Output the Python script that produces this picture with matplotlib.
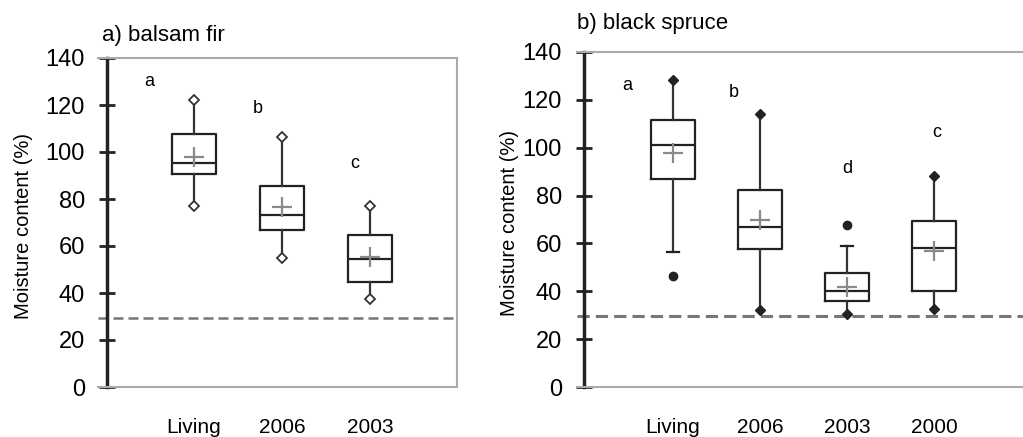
import matplotlib
matplotlib.use("Agg")
import matplotlib.pyplot as plt

plt.rcParams['font.family'] = ['Liberation Sans', 'DejaVu Sans']

# a) balsam fir
fir_groups = ['Living', '2006', '2003']
fir_whislo = [77, 55, 37.5]
fir_q1 = [90.5, 67, 44.5]
fir_med = [95.5, 73, 54.5]
fir_q3 = [107.5, 85.5, 64.5]
fir_whishi = [122, 106.5, 77]
fir_mean = [98, 76.5, 55.5]
fir_fliers = [[], [], []]
fir_letters = ['a', 'b', 'c']
fir_letter_x = [0.49, 1.72, 2.83]
fir_letter_y = [130, 118.5, 95]
fir_fsp = 29.5

# b) black spruce
spr_groups = ['Living', '2006', '2003', '2000']
spr_whislo = [56.5, 32, 30.5, 32.5]
spr_q1 = [87, 57.5, 36, 40]
spr_med = [101, 67, 40, 58]
spr_q3 = [111.5, 82.5, 47.5, 69.5]
spr_whishi = [128.5, 114, 59, 88]
spr_mean = [98, 70, 42, 57]
spr_fliers = [[46.5], [], [67.5], []]
spr_letters = ['a', 'b', 'd', 'c']
spr_letter_x = [0.47, 1.70, 3.0, 4.03]
spr_letter_y = [126, 123, 91.5, 106.5]
spr_fsp = 29.5


def make_stats(lo, q1, med, q3, hi, mean, fliers):
    return [dict(whislo=lo[i], q1=q1[i], med=med[i], q3=q3[i], whishi=hi[i],
                 mean=mean[i], fliers=fliers[i]) for i in range(len(med))]


def panel(ax, groups, lo, q1, med, q3, hi, mean, fliers, letters, lx, ly,
          fsp, xlim, spine_pos, filled, ylab_x):
    pos = list(range(1, len(groups) + 1))
    stats = make_stats(lo, q1, med, q3, hi, mean, fliers)
    ax.bxp(stats, positions=pos, widths=0.5, showmeans=True, showcaps=False,
           boxprops=dict(color='#222222', lw=1.6),
           whiskerprops=dict(color='#333333', lw=1.6),
           medianprops=dict(color='#222222', lw=1.6),
           meanprops=dict(marker='+', markersize=15, markeredgewidth=1.6,
                          markeredgecolor='#8a8a8a'),
           flierprops=dict(marker='o', markersize=6, markerfacecolor='#222222',
                           markeredgecolor='#222222'))
    # whisker ends: diamonds, or short caps when there are outliers beyond
    for i, p in enumerate(pos):
        for end, beyond in ((lo[i], [f for f in fliers[i] if f < q1[i]]),
                            (hi[i], [f for f in fliers[i] if f > q3[i]])):
            if beyond:
                ax.plot([p - 0.07, p + 0.07], [end, end], color='#222222', lw=1.6)
            elif filled:
                ax.plot(p, end, marker='D', markersize=5, color='#222222')
            else:
                ax.plot(p, end, marker='D', markersize=5.5, markerfacecolor='white',
                        markeredgecolor='#333333', markeredgewidth=1.3)
    ax.axhline(fsp, color='#777777', lw=2.2 if filled else 1.8,
               dashes=(4, 2), zorder=0)
    for t, x, y in zip(letters, lx, ly):
        ax.text(x, y, t, fontsize=13, ha='center', va='center')
    ax.set_xlim(*xlim)
    ax.set_ylim(0, 140)
    ax.set_yticks(range(0, 141, 20))
    ax.set_xticks(pos, groups)
    ax.tick_params(axis='x', length=0, pad=22, labelsize=15)
    ax.tick_params(axis='y', direction='inout', length=12, width=2,
                   labelsize=17, pad=10, color='#222222')
    for s in ('top', 'right', 'bottom'):
        ax.spines[s].set_color('#aaaaaa')
        ax.spines[s].set_linewidth(1.5)
    ax.spines['left'].set_position(('axes', spine_pos))
    ax.spines['left'].set_color('#222222')
    ax.spines['left'].set_linewidth(2.5)
    ax.set_ylabel('Moisture content (%)', fontsize=14.5)
    ax.yaxis.set_label_coords(ylab_x, 0.49)


fig = plt.figure(figsize=(10.23, 4.37), dpi=100)
ax1 = fig.add_axes([98 / 1023, 1 - 387 / 437, 359 / 1023, 329 / 437])
ax2 = fig.add_axes([577 / 1023, 1 - 387 / 437, 451 / 1023, 335 / 437])

panel(ax1, fir_groups, fir_whislo, fir_q1, fir_med, fir_q3, fir_whishi,
      fir_mean, fir_fliers, fir_letters, fir_letter_x, fir_letter_y, fir_fsp,
      (-0.091, 3.989), 0.025, False, -0.18)
panel(ax2, spr_groups, spr_whislo, spr_q1, spr_med, spr_q3, spr_whishi,
      spr_mean, spr_fliers, spr_letters, spr_letter_x, spr_letter_y, spr_fsp,
      (-0.103, 5.08), 0.016, True, -0.128)

fig.text(102 / 1023, 1 - 36 / 437, 'a) balsam fir', fontsize=16, va='center')
fig.text(577 / 1023, 1 - 23 / 437, 'b) black spruce', fontsize=16, va='center')

fig.savefig('out.png', dpi=100)
